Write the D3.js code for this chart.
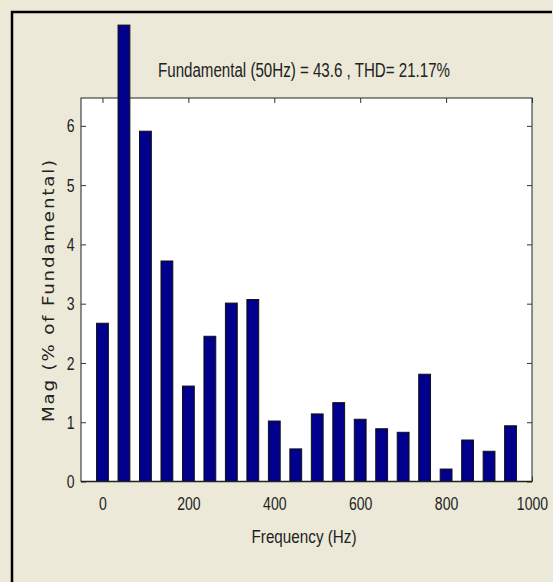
<!DOCTYPE html>
<html>
<head>
<meta charset="utf-8">
<script src="https://cdn.jsdelivr.net/npm/d3@7"></script>
<style>
  body { margin: 0; background: #ece9d8; }
  svg { display: block; }
  text { font-family: "Liberation Sans", Arial, sans-serif; fill: #222; }
</style>
</head>
<body>
<svg id="chart" width="553" height="582"></svg>
<script>
// harmonic spectrum
const frequencies = [0, 50, 100, 150, 200, 250, 300, 350, 400, 450,
  500, 550, 600, 650, 700, 750, 800, 850, 900, 950];
const magnitudes = [2.67, 7.70, 5.91, 3.72, 1.61, 2.45, 3.01, 3.07, 1.02, 0.55,
  1.14, 1.33, 1.05, 0.89, 0.83, 1.81, 0.21, 0.70, 0.51, 0.94];
const xTicks = [0, 200, 400, 600, 800, 1000];
const yTicks = [0, 1, 2, 3, 4, 5, 6];
const titleText = 'Fundamental (50Hz) = 43.6 , THD= 21.17%';
const xLabel = 'Frequency (Hz)';
const yLabel = 'Mag (% of Fundamental)';

const svg = d3.select('#chart');

// plot box
const box = { left: 81, right: 532, top: 98, bottom: 481.5 };
const barWidth = 27.5; // in Hz
const squeeze = 0.74;  // narrow look of the matlab tick font

const x = d3.scaleLinear().domain([-50, 1000]).range([box.left, box.right]);
const y = d3.scaleLinear().domain([0, 6.47]).range([box.bottom, box.top]);

// window frame (left and top edges only are visible)
svg.append('path')
  .attr('d', 'M12,583V12H552')
  .attr('fill', 'none')
  .attr('stroke', '#000')
  .attr('stroke-width', 2.5);

// white axes area
svg.append('rect')
  .attr('x', box.left).attr('y', box.top)
  .attr('width', box.right - box.left).attr('height', box.bottom - box.top)
  .attr('fill', '#fff')
  .attr('stroke', '#222')
  .attr('stroke-width', 1);

// inward ticks on all four sides
const styleAxis = (g) => {
  g.select('.domain').remove();
  g.selectAll('.tick line').attr('stroke', '#333');
  g.selectAll('.tick text')
    .style('font-size', '19px')
    .attr('fill', '#222');
};

svg.append('g')
  .attr('transform', `translate(0,${box.top})`)
  .call(d3.axisTop(x).tickValues(xTicks).tickSize(-5).tickFormat(''))
  .call(styleAxis);

svg.append('g')
  .attr('transform', `translate(${box.right},0)`)
  .call(d3.axisRight(y).tickValues(yTicks).tickSize(-5).tickFormat(''))
  .call(styleAxis);

const xAxis = svg.append('g')
  .attr('transform', `translate(0,${box.bottom})`)
  .call(d3.axisBottom(x).tickValues(xTicks).tickSize(-5).tickPadding(15)
    .tickFormat(d3.format('d')))
  .call(styleAxis);
xAxis.selectAll('.tick text')
  .attr('transform', `scale(${squeeze},1)`);

const yAxis = svg.append('g')
  .attr('transform', `translate(${box.left},0)`)
  .call(d3.axisLeft(y).tickValues(yTicks).tickSize(-5).tickPadding(6)
    .tickFormat(d3.format('d')))
  .call(styleAxis);
yAxis.selectAll('.tick text')
  .attr('x', -6.5 / squeeze)
  .attr('transform', `scale(${squeeze},1)`);

// bars
svg.append('g')
  .selectAll('rect')
  .data(frequencies)
  .join('rect')
  .attr('x', (d) => x(d - barWidth / 2))
  .attr('width', (d) => x(d + barWidth / 2) - x(d - barWidth / 2))
  .attr('y', (d, i) => y(magnitudes[i]))
  .attr('height', (d, i) => y(0) - y(magnitudes[i]))
  .attr('fill', '#00008c')
  .attr('stroke', '#111')
  .attr('stroke-width', 1);

// baseline drawn over the bar feet
svg.append('line')
  .attr('x1', box.left).attr('x2', box.right)
  .attr('y1', box.bottom).attr('y2', box.bottom)
  .attr('stroke', '#222')
  .attr('stroke-width', 1.5);

// texts
svg.append('text')
  .attr('x', 304).attr('y', 77)
  .attr('text-anchor', 'middle')
  .attr('textLength', 292)
  .attr('lengthAdjust', 'spacingAndGlyphs')
  .style('font-size', '20px')
  .text(titleText);

svg.append('text')
  .attr('x', 304).attr('y', 543)
  .attr('text-anchor', 'middle')
  .attr('textLength', 105)
  .attr('lengthAdjust', 'spacingAndGlyphs')
  .style('font-size', '19px')
  .text(xLabel);

svg.append('text')
  .attr('transform', 'translate(54,290) rotate(-90)')
  .attr('text-anchor', 'middle')
  .attr('textLength', 264)
  .attr('lengthAdjust', 'spacingAndGlyphs')
  .attr('letter-spacing', 1.5)
  .style('font-family', '"DejaVu Sans", sans-serif')
  .style('font-size', '15px')
  .text(yLabel);
</script>
</body>
</html>
